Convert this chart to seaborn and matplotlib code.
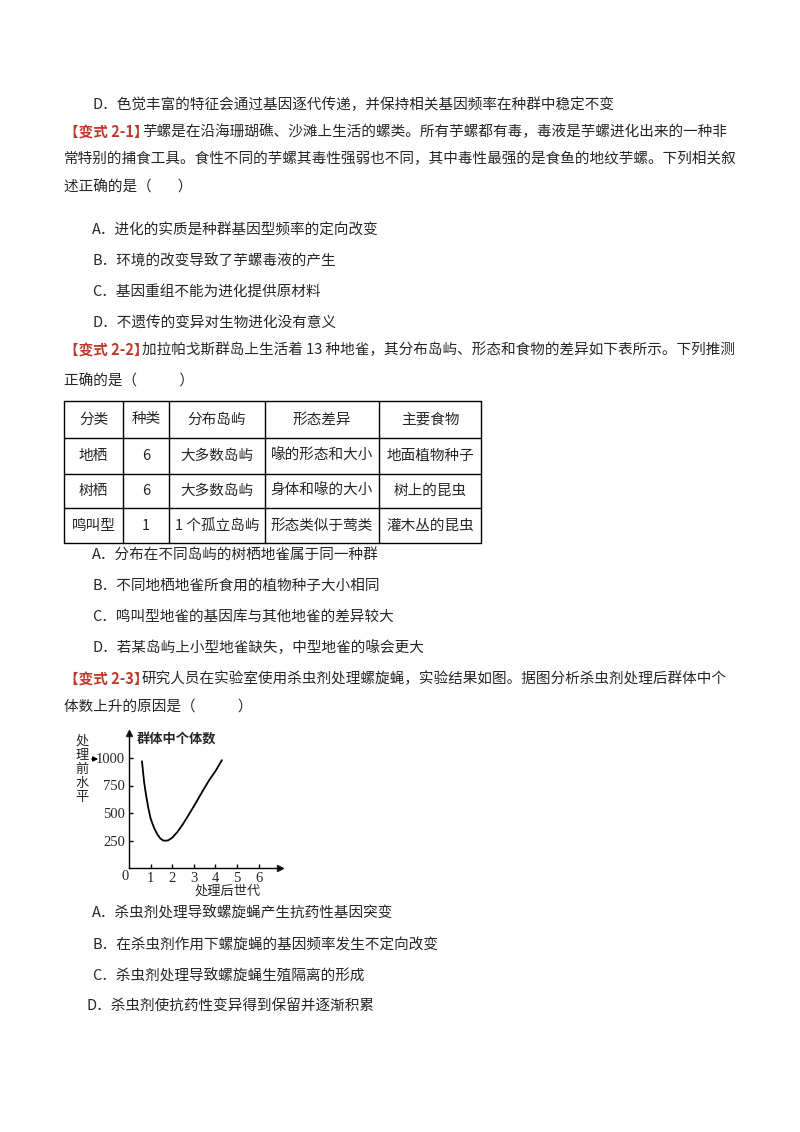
import matplotlib
matplotlib.use("Agg")
import matplotlib.pyplot as plt
import seaborn as sns
import pandas as pd

sns.set_theme(style="white")
plt.rcParams['font.family'] = ['Noto Sans CJK SC', 'DejaVu Sans']

gen = [0.6, 0.7, 0.8, 0.9, 1.0, 1.15, 1.3, 1.45, 1.6, 1.8, 2.0, 2.25, 2.5, 2.75, 3.0, 3.25, 3.5, 3.75, 4.0, 4.3]
count = [970, 780, 650, 540, 450, 370, 310, 268, 248, 250, 275, 330, 400, 480, 560, 645, 730, 810, 880, 980]
yticks = [250, 500, 750, 1000]
xticks = [0, 1, 2, 3, 4, 5, 6]

W, H = 800, 1132
fig = plt.figure(figsize=(8, 11.32), dpi=100)
FS = 10.5
RED = '#c0392b'

def t(x, y, s, **kw):
    kw.setdefault('fontsize', FS)
    fig.text(x / W, 1 - y / H, s, va='center', ha=kw.pop('ha', 'left'), **kw)

def head(x, y, tag, rest):
    t(x, y, tag, color=RED, fontweight='bold')
    t(x + 78, y, rest)

t(92, 105, "D．色觉丰富的特征会通过基因逐代传递，并保持相关基因频率在种群中稳定不变")
head(64, 132, "【变式 2-1】", "芋螺是在沿海珊瑚礁、沙滩上生活的螺类。所有芋螺都有毒，毒液是芋螺进化出来的一种非")
t(64, 159, "常特别的捕食工具。食性不同的芋螺其毒性强弱也不同，其中毒性最强的是食鱼的地纹芋螺。下列相关叙")
t(64, 187, "述正确的是（        ）")
t(92, 231, "A．进化的实质是种群基因型频率的定向改变")
t(92, 262, "B．环境的改变导致了芋螺毒液的产生")
t(92, 293, "C．基因重组不能为进化提供原材料")
t(92, 323, "D．不遗传的变异对生物进化没有意义")
head(64, 350, "【变式 2-2】", "加拉帕戈斯群岛上生活着 13 种地雀，其分布岛屿、形态和食物的差异如下表所示。下列推测")
t(64, 381, "正确的是（             ）")

# table
cols = [64, 123, 169, 265, 379, 481]
rows = [401, 438, 474, 508, 543]
cells = [["分类", "种类", "分布岛屿", "形态差异", "主要食物"],
         ["地栖", "6", "大多数岛屿", "喙的形态和大小", "地面植物种子"],
         ["树栖", "6", "大多数岛屿", "身体和喙的大小", "树上的昆虫"],
         ["鸣叫型", "1", "1 个孤立岛屿", "形态类似于莺类", "灌木丛的昆虫"]]
for x in cols:
    fig.add_artist(plt.Line2D([x / W] * 2, [1 - rows[0] / H, 1 - rows[-1] / H], color='black', lw=1))
for y in rows:
    fig.add_artist(plt.Line2D([cols[0] / W, cols[-1] / W], [1 - y / H] * 2, color='black', lw=1))
for r, row in enumerate(cells):
    for c, s in enumerate(row):
        t((cols[c] + cols[c + 1]) / 2, (rows[r] + rows[r + 1]) / 2, s, ha='center')

t(92, 555, "A．分布在不同岛屿的树栖地雀属于同一种群")
t(92, 586, "B．不同地栖地雀所食用的植物种子大小相同")
t(92, 617, "C．鸣叫型地雀的基因库与其他地雀的差异较大")
t(92, 648, "D．若某岛屿上小型地雀缺失，中型地雀的喙会更大")
head(64, 679, "【变式 2-3】", "研究人员在实验室使用杀虫剂处理螺旋蝇，实验结果如图。据图分析杀虫剂处理后群体中个")
t(64, 707, "体数上升的原因是（             ）")

t(92, 913, "A．杀虫剂处理导致螺旋蝇产生抗药性基因突变")
t(92, 945, "B．在杀虫剂作用下螺旋蝇的基因频率发生不定向改变")
t(92, 976, "C．杀虫剂处理导致螺旋蝇生殖隔离的形成")
t(86, 1007, "D．杀虫剂使抗药性变异得到保留并逐渐积累")

# chart
x0, y0, x1, y1 = 129, 868, 280, 733
ax = fig.add_axes([x0 / W, 1 - y0 / H, (x1 - x0) / W, (y0 - y1) / H])
df = pd.DataFrame({"gen": gen, "count": count})
sns.lineplot(data=df, x="gen", y="count", ax=ax, color='black', lw=1.3)
ax.set_xlim(0, (x1 - x0) / 21.6)
ax.set_ylim(0, (y0 - y1) / 0.11)
for s in ['top', 'right']:
    ax.spines[s].set_visible(False)
for s in ['left', 'bottom']:
    ax.spines[s].set_color('black'); ax.spines[s].set_linewidth(1)
ax.plot(1, 0, '>k', ms=4, transform=ax.transAxes, clip_on=False)
ax.plot(0, 1, '^k', ms=4, transform=ax.transAxes, clip_on=False)
ax.set_xticks(xticks[1:])
ax.set_yticks(yticks)
ax.tick_params(direction='in', length=3, width=1, color='black', left=True, bottom=True, pad=3)
ax.set_xticklabels([str(v) for v in xticks[1:]], fontsize=10.5, family='Liberation Serif')
ax.set_yticklabels([str(v) for v in yticks], fontsize=10.5, family='Liberation Serif')
ax.set_xlabel(""); ax.set_ylabel("")
ax.patch.set_alpha(0)
t(122, 877, "0", fontsize=10.5, family='Liberation Serif')
t(137, 740, "群体中个体数", fontsize=9.5, fontweight='bold')
t(228, 891, "处理后世代", fontsize=9.5, ha='center')
for i, ch in enumerate("处理前水平"):
    t(82, 741 + i * 14, ch, fontsize=9.5, ha='center')
fig.add_artist(matplotlib.patches.FancyArrowPatch((89 / W, 1 - 759 / H), (101 / W, 1 - 759 / H),
               transform=fig.transFigure, arrowstyle='-|>', mutation_scale=7, color='black', lw=1))

fig.savefig("out.png", dpi=100)
